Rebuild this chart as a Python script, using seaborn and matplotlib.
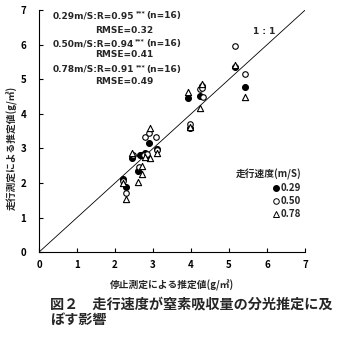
import numpy as np
import pandas as pd
import matplotlib
matplotlib.use("Agg")
import matplotlib.pyplot as plt
import seaborn as sns
from matplotlib.lines import Line2D

sns.set_theme(style="white")
plt.rcParams['font.family'] = ['Noto Sans CJK JP', 'DejaVu Sans']
plt.rcParams['font.weight'] = 'bold'

# 0.29 m/s (filled circles)
x029 = [2.22, 2.29, 2.46, 2.60, 2.72, 2.80, 2.90, 2.85, 3.10, 3.96, 3.91, 4.24, 4.30, 5.16, 5.42, 2.66]
y029 = [2.12, 1.87, 2.72, 2.36, 2.82, 2.88, 3.17, 2.75, 2.99, 3.60, 4.45, 4.53, 4.80, 5.35, 4.79, 2.80]
# 0.50 m/s (open circles)
x050 = [2.29, 2.79, 2.90, 3.08, 3.96, 4.24, 4.31, 5.16, 5.42, 2.75, 2.62, 2.22, 2.85, 2.48, 3.10, 4.30]
y050 = [1.72, 3.32, 3.44, 3.34, 3.70, 4.72, 4.48, 5.95, 5.15, 2.80, 2.45, 2.05, 2.85, 2.80, 2.95, 4.75]
# 0.78 m/s (open triangles)
x078 = [2.29, 2.22, 2.60, 2.70, 2.72, 2.92, 2.44, 3.10, 2.92, 3.91, 4.24, 4.30, 5.16, 5.42, 3.96, 2.80]
y078 = [1.53, 1.99, 2.04, 2.25, 2.49, 2.71, 2.88, 2.88, 3.58, 4.63, 4.17, 4.86, 5.40, 4.50, 3.62, 2.76]

speeds = ['0.29', '0.50', '0.78']
stats_r = ['0.95', '0.94', '0.91']
stats_rmse = ['0.32', '0.41', '0.49']
ticks = [0, 1, 2, 3, 4, 5, 6, 7]

df = pd.DataFrame({
    'x': x029 + x050 + x078,
    'y': y029 + y050 + y078,
    'speed': ['0.29'] * len(x029) + ['0.50'] * len(x050) + ['0.78'] * len(x078),
})

fig = plt.figure(figsize=(3.42, 3.38), dpi=100)
ax = fig.add_axes([0.114, 0.254, 0.778, 0.716])

styles = {
    '0.29': dict(marker='o', facecolor='black', edgecolor='black', s=18),
    '0.50': dict(marker='o', facecolor='white', edgecolor='black', s=16),
    '0.78': dict(marker='^', facecolor='white', edgecolor='black', s=20),
}
for sp in speeds:
    sub = df[df['speed'] == sp]
    st = styles[sp]
    sns.scatterplot(data=sub, x='x', y='y', ax=ax, marker=st['marker'],
                    color=st['facecolor'], edgecolor=st['edgecolor'],
                    s=st['s'], linewidth=0.8, legend=False, zorder=3)

ax.plot([0, 7], [0, 7], color='black', lw=0.6, zorder=2)

ax.set_xlim(0, 7)
ax.set_ylim(0, 7)
ax.set_xticks(ticks)
ax.set_yticks(ticks)
ax.tick_params(direction='in', length=3, width=0.8, labelsize=7, colors='black',
               left=True, bottom=True)
ax.tick_params(axis='x', pad=6)
ax.tick_params(axis='y', pad=9)
for lab in ax.get_xticklabels() + ax.get_yticklabels():
    lab.set_fontweight('bold')
sns.despine(ax=ax)
for s in ['left', 'bottom']:
    ax.spines[s].set_color('black')
    ax.spines[s].set_linewidth(0.8)

ax.set_xlabel('停止測定による推定値(g/㎡)', fontsize=7, fontweight='bold')
ax.set_ylabel('走行測定による推定値(g/㎡)', fontsize=7, fontweight='bold')
ax.xaxis.set_label_coords(0.5, -0.115)
ax.yaxis.set_label_coords(-0.078, 0.43)

# statistics text
fig.canvas.draw()
renderer = fig.canvas.get_renderer()
stat_font = dict(family=['DejaVu Sans'], fontsize=6.5, fontweight='bold')
line_y = [0.976, 0.862, 0.756]
rmse_y = [0.917, 0.818, 0.707]
for i, sp in enumerate(speeds):
    t1 = ax.text(0.05, line_y[i], f'{sp}m/S:R={stats_r[i]}', transform=ax.transAxes,
                 va='center', ha='left', **stat_font)
    bb = t1.get_window_extent(renderer).transformed(ax.transAxes.inverted())
    t2 = ax.text(bb.x1 + 0.006, line_y[i] + 0.012, '***', transform=ax.transAxes,
                 va='center', ha='left', family=['DejaVu Sans'], fontsize=4.5,
                 fontweight='bold')
    bb2 = t2.get_window_extent(renderer).transformed(ax.transAxes.inverted())
    ax.text(bb2.x1 + 0.003, line_y[i], '(n=16)', transform=ax.transAxes,
            va='center', ha='left', **stat_font)
    ax.text(0.21, rmse_y[i], f'RMSE={stats_rmse[i]}', transform=ax.transAxes,
            va='center', ha='left', **stat_font)

ax.text(0.805, 0.91, '1 : 1', transform=ax.transAxes, va='center', ha='left',
        **stat_font)

handles = [
    Line2D([], [], ls='none', marker='o', markersize=4, markerfacecolor='black', markeredgecolor='black'),
    Line2D([], [], ls='none', marker='o', markersize=4, markerfacecolor='white', markeredgecolor='black', markeredgewidth=0.7),
    Line2D([], [], ls='none', marker='^', markersize=5, markerfacecolor='white', markeredgecolor='black', markeredgewidth=0.7),
]
leg = ax.legend(handles, speeds, title='走行速度(m/S)', loc='lower right',
                bbox_to_anchor=(1.0, 0.12), frameon=False, fontsize=7,
                title_fontsize=7, handlelength=0.6, handletextpad=0.2,
                labelspacing=0.3, alignment='right', borderaxespad=0)
leg.get_title().set_fontweight('bold')
for t in leg.get_texts():
    t.set_fontweight('bold')

fig.text(0.146, 0.098, '図２　走行速度が窒素吸収量の分光推定に及', fontsize=10.2,
         fontweight='bold', va='center', ha='left')
fig.text(0.146, 0.052, 'ぼす影響', fontsize=10.2, fontweight='bold', va='center', ha='left')

fig.savefig('out.png', dpi=100, facecolor='white')
